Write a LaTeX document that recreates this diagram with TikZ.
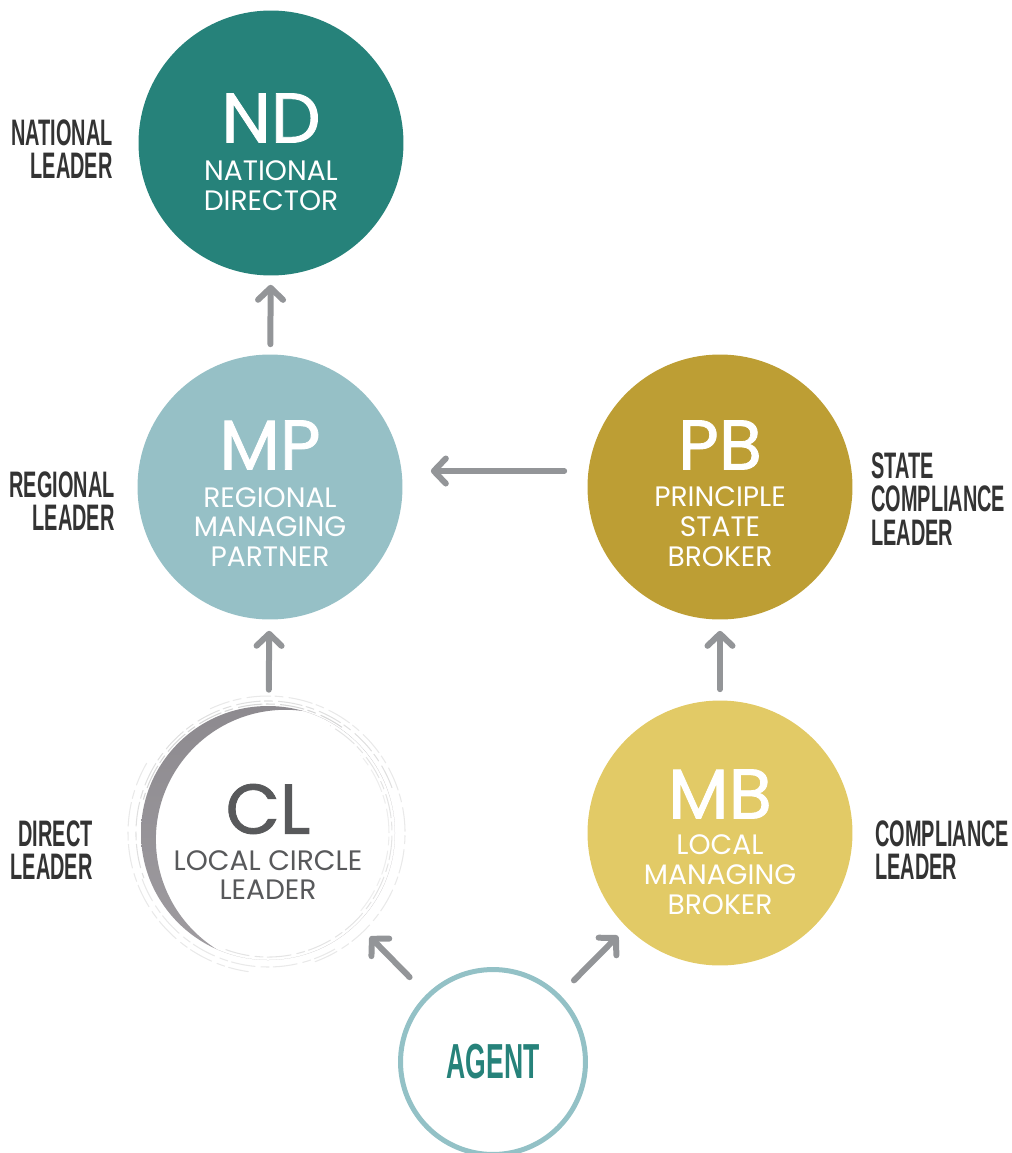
\documentclass[tikz,border=0pt]{standalone}
\usepackage{fontspec}
\setmainfont{Poppins}
\newfontfamily\tagfont[FakeBold=1.2]{Poppins}
\newfontfamily\bebas[FakeStretch=0.54]{Liberation Sans}
\usetikzlibrary{arrows.meta,positioning,shapes}
\definecolor{ndteal}{HTML}{26827A}
\definecolor{mpblue}{HTML}{96C0C6}
\definecolor{pbgold}{HTML}{BD9E34}
\definecolor{mbyellow}{HTML}{E2CA66}
\definecolor{agentring}{HTML}{93C1C6}
\definecolor{arrgray}{HTML}{939598}
\definecolor{labeldark}{HTML}{333333}
\definecolor{clgray}{HTML}{58595B}
\definecolor{brushdark}{HTML}{8D8A8F}
\definecolor{brushlight}{HTML}{DAD8DA}
\definecolor{brushmid}{HTML}{A09DA1}
\tikzset{
  bub/.style={circle, minimum size=5.3cm, inner sep=0pt},
  tag/.style={font=\tagfont\fontsize{40}{40}\selectfont, inner sep=0pt},
  sub/.style={font=\fontsize{16}{17}\selectfont, align=center, inner sep=0pt},
  role/.style={font=\bebas\bfseries\fontsize{21}{19}\selectfont, text=labeldark, inner sep=0pt},
  arr/.style={draw=arrgray, line width=0.12cm, line cap=round,
    -{Straight Barb[round,length=0.24cm,width=0.5cm]}},
}
\begin{document}
\begin{tikzpicture}[x=0.02cm,y=-0.02cm]
  \useasboundingbox (0,0) rectangle (1011,1153);
  \node[bub,fill=ndteal] (nd) at (271,143) {};
  \node[tag,text=white] (ndtag) at (271,118) {ND};
  \node[sub,text=white] (ndsub) at (271,186) {NATIONAL\\DIRECTOR};
  \node[bub,fill=mpblue] (mp) at (270,487) {};
  \node[tag,text=white] (mptag) at (270,445) {MP};
  \node[sub,text=white] (mpsub) at (270,527) {REGIONAL\\MANAGING\\PARTNER};
  \node[bub,fill=pbgold] (pb) at (720,487) {};
  \node[tag,text=white] (pbtag) at (720,445) {PB};
  \node[sub,text=white] (pbsub) at (720,527) {PRINCIPLE\\STATE\\BROKER};
  \node[bub,fill=mbyellow] (mb) at (720,833) {};
  \node[tag,text=white] (mbtag) at (720,794) {MB};
  \node[sub,text=white] (mbsub) at (720,875) {LOCAL\\MANAGING\\BROKER};
  \node[circle,minimum size=5.2cm,inner sep=0pt] (cl) at (268,833) {};
  \begin{scope}[shift={(268,833)},x=0.02cm,y=0.02cm]
    \foreach \r/\a/\b/\o in {132/20/200/0.35, 137/-70/115/0.25, 124/-110/60/0.3,
        140/150/262/0.25, 129/55/165/0.45, 134/200/300/0.25, 121/-40/40/0.2, 126/100/150/0.5}
      \draw[gray!70,line width=0.6pt,opacity=\o,dash pattern=on 14pt off 3pt on 5pt off 2pt]
        (\a:\r) arc[start angle=\a,end angle=\b,radius=\r];
    \begin{scope}
      \clip (0,0) circle (127);
      \shade[even odd rule,top color=brushdark,middle color=brushlight,bottom color=brushmid]
        (0,0) circle (127) (17.5,-6.4) circle (129.6);
    \end{scope}
  \end{scope}
  \node[tag,text=clgray] (cltag) at (268,809) {CL};
  \node[sub,text=clgray] (clsub) at (268,875) {LOCAL CIRCLE\\LEADER};
  \node[circle,draw=agentring,line width=0.1cm,fill=white,minimum size=3.7cm,
    font=\bebas\bfseries\fontsize{28}{30}\selectfont,text=ndteal] (agent) at (493,1062) {AGENT};
  \node[role,align=right,anchor=east] (natl) at (113,149) {NATIONAL\\LEADER};
  \node[role,align=right,anchor=east] (regl) at (115,501) {REGIONAL\\LEADER};
  \node[role,align=right,anchor=east] (dirl) at (93,850) {DIRECT\\LEADER};
  \node[role,align=left,anchor=west] (stcl) at (871,499) {STATE\\COMPLIANCE\\LEADER};
  \node[role,align=left,anchor=west] (coml) at (875,850) {COMPLIANCE\\LEADER};
  \draw[arr,shorten <=0.2cm,shorten >=0.18cm] (mp) -- (nd);
  \draw[arr] ([xshift=-0.46cm,yshift=0.32cm]pb.west) -- ([xshift=0.56cm,yshift=0.32cm]mp.east);
  \draw[arr,shorten <=0.26cm,shorten >=0.22cm] (cl) -- (mp);
  \draw[arr,shorten <=0.22cm,shorten >=0.22cm] (mb) -- (pb);
  \draw[arr,shorten <=0.48cm,shorten >=0.3cm] (agent) -- (cl);
  \draw[arr,shorten <=0.4cm,shorten >=0.24cm] (agent) -- (mb);
\end{tikzpicture}
\end{document}
